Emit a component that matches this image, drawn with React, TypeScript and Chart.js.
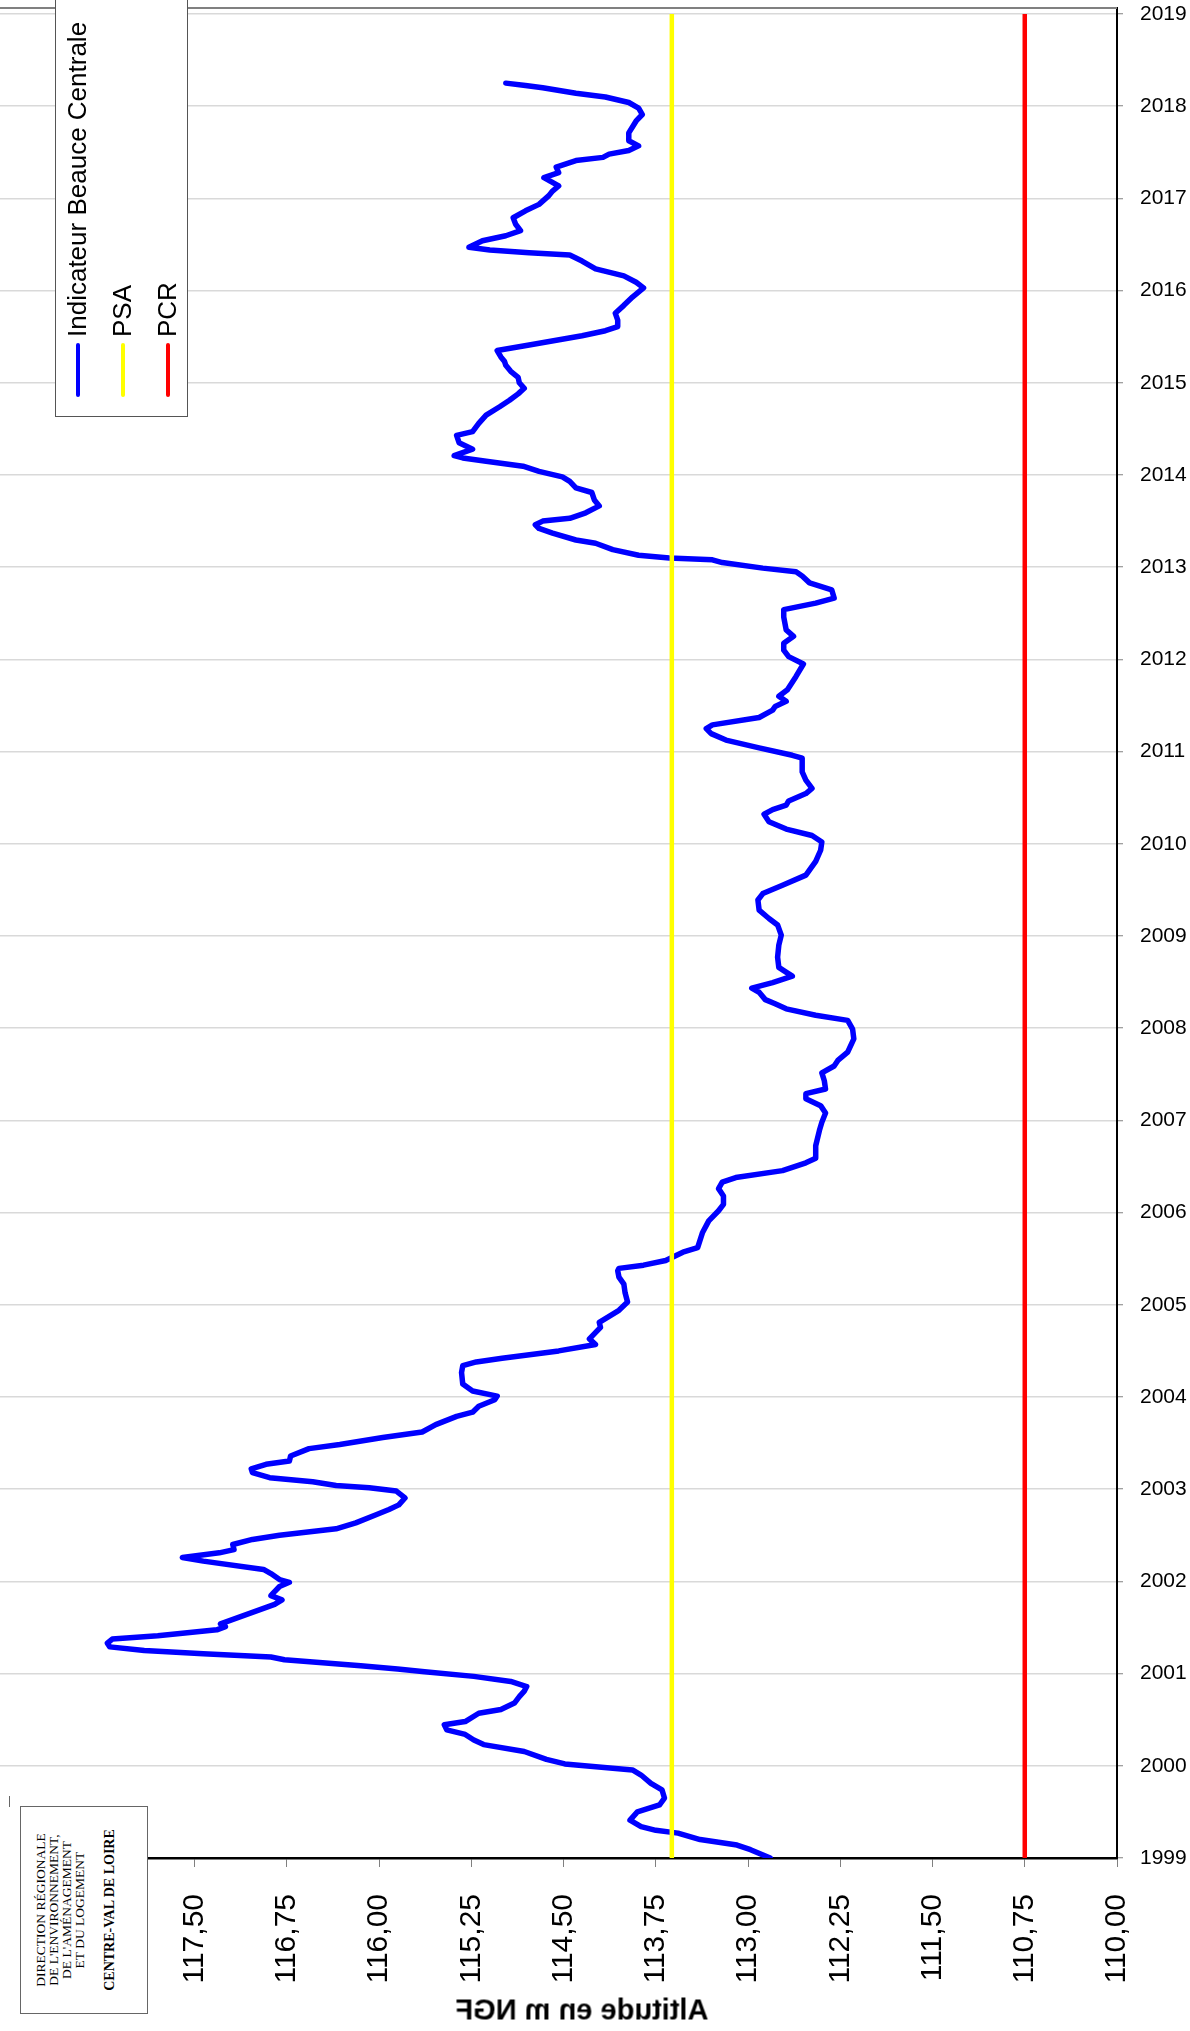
import React, { useEffect, useRef } from "react";
import { Chart, registerables } from "chart.js";

Chart.register(...registerables);

// Decimal years of each measurement
const dates: number[] = [
  1999.0, 1999.09, 1999.14, 1999.2, 1999.27, 1999.3, 1999.34, 1999.41, 1999.5, 1999.575,
  1999.65, 1999.74, 1999.81, 1999.9, 1999.955, 2000.02, 2000.07, 2000.155, 2000.23, 2000.28,
  2000.34, 2000.39, 2000.445, 2000.48, 2000.57, 2000.61, 2000.68, 2000.75, 2000.81, 2000.86,
  2000.915, 2000.97, 2001.02, 2001.05, 2001.085, 2001.15, 2001.18, 2001.215, 2001.25, 2001.29,
  2001.33, 2001.375, 2001.41, 2001.475, 2001.51, 2001.54, 2001.75, 2001.8, 2001.845, 2001.89,
  2001.945, 2001.99, 2002.02, 2002.085, 2002.13, 2002.22, 2002.26, 2002.31, 2002.345, 2002.4,
  2002.455, 2002.5, 2002.57, 2002.635, 2002.725, 2002.78, 2002.83, 2002.905, 2002.98, 2003.015,
  2003.04, 2003.08, 2003.125, 2003.18, 2003.22, 2003.27, 2003.305, 2003.36, 2003.44, 2003.485,
  2003.56, 2003.62, 2003.7, 2003.79, 2003.835, 2003.9, 2003.97, 2004.01, 2004.065, 2004.14,
  2004.265, 2004.34, 2004.38, 2004.42, 2004.5, 2004.57, 2004.63, 2004.755, 2004.81, 2004.875,
  2004.94, 2005.03, 2005.13, 2005.225, 2005.3, 2005.37, 2005.395, 2005.43, 2005.48, 2005.57,
  2005.62, 2005.785, 2005.91, 2006.02, 2006.09, 2006.18, 2006.26, 2006.33, 2006.38, 2006.455,
  2006.54, 2006.59, 2006.725, 2006.89, 2006.98, 2007.08, 2007.16, 2007.235, 2007.29, 2007.34,
  2007.43, 2007.515, 2007.59, 2007.65, 2007.74, 2007.885, 2007.99, 2008.085, 2008.14, 2008.21,
  2008.265, 2008.31, 2008.39, 2008.435, 2008.495, 2008.565, 2008.625, 2008.66, 2008.77, 2008.9,
  2009.01, 2009.12, 2009.19, 2009.28, 2009.39, 2009.46, 2009.55, 2009.66, 2009.81, 2009.93,
  2010.02, 2010.09, 2010.16, 2010.24, 2010.32, 2010.37, 2010.42, 2010.465, 2010.545, 2010.6,
  2010.69, 2010.78, 2010.93, 2010.96, 2011.04, 2011.125, 2011.195, 2011.25, 2011.29, 2011.37,
  2011.45, 2011.49, 2011.545, 2011.6, 2011.67, 2011.815, 2011.95, 2012.03, 2012.1, 2012.175,
  2012.25, 2012.32, 2012.46, 2012.54, 2012.61, 2012.665, 2012.755, 2012.83, 2012.905, 2012.95,
  2012.99, 2013.05, 2013.08, 2013.1, 2013.13, 2013.19, 2013.26, 2013.295, 2013.37, 2013.42,
  2013.46, 2013.5, 2013.53, 2013.59, 2013.665, 2013.73, 2013.81, 2013.86, 2013.93, 2013.98,
  2014.04, 2014.095, 2014.15, 2014.185, 2014.21, 2014.28, 2014.35, 2014.43, 2014.47, 2014.56,
  2014.65, 2014.74, 2014.81, 2014.88, 2014.94, 2015.0, 2015.06, 2015.125, 2015.19, 2015.23,
  2015.28, 2015.35, 2015.41, 2015.51, 2015.565, 2015.61, 2015.68, 2015.755, 2015.84, 2015.93,
  2016.03, 2016.09, 2016.16, 2016.235, 2016.32, 2016.385, 2016.41, 2016.44, 2016.47, 2016.54,
  2016.595, 2016.65, 2016.72, 2016.79, 2016.865, 2016.935, 2017.03, 2017.08, 2017.135, 2017.225,
  2017.28, 2017.34, 2017.41, 2017.445, 2017.48, 2017.52, 2017.57, 2017.625, 2017.71, 2017.84,
  2017.91, 2017.98, 2018.04, 2018.1, 2018.14, 2018.2, 2018.225, 2018.25,
];

// Groundwater level, metres NGF (Indicateur Beauce Centrale)
const levels: number[] = [
  112.82, 112.98, 113.09, 113.39, 113.57, 113.75, 113.87, 113.96, 113.9, 113.72,
  113.68, 113.7, 113.79, 113.87, 113.94, 114.49, 114.64, 114.82, 115.15, 115.23,
  115.3, 115.45, 115.47, 115.3, 115.19, 115.01, 114.9, 114.86, 114.82, 114.8,
  114.93, 115.23, 115.63, 115.85, 116.15, 116.77, 116.88, 117.43, 117.91, 118.19,
  118.21, 118.17, 117.8, 117.32, 117.25, 117.29, 116.85, 116.79, 116.88, 116.85,
  116.81, 116.73, 116.81, 116.88, 116.94, 117.43, 117.6, 117.3, 117.18, 117.19,
  117.03, 116.81, 116.35, 116.19, 116.02, 115.92, 115.84, 115.79, 115.86, 116.08,
  116.35, 116.54, 116.89, 117.03, 117.04, 116.92, 116.73, 116.72, 116.57, 116.32,
  115.97, 115.65, 115.54, 115.37, 115.24, 115.19, 115.06, 115.04, 115.24, 115.32,
  115.33, 115.32, 115.21, 115.0, 114.54, 114.24, 114.29, 114.2, 114.21, 114.13,
  114.05, 113.98, 114.0, 114.01, 114.05, 114.06, 114.05, 113.85, 113.67, 113.53,
  113.41, 113.37, 113.32, 113.24, 113.2, 113.2, 113.24, 113.21, 113.1, 112.72,
  112.53, 112.45, 112.45, 112.42, 112.4, 112.37, 112.41, 112.53, 112.53, 112.37,
  112.38, 112.4, 112.3, 112.27, 112.19, 112.14, 112.15, 112.19, 112.45, 112.69,
  112.78, 112.86, 112.91, 112.97, 112.8, 112.64, 112.71, 112.75, 112.76, 112.75,
  112.73, 112.76, 112.83, 112.91, 112.92, 112.88, 112.72, 112.53, 112.45, 112.41,
  112.4, 112.48, 112.69, 112.83, 112.87, 112.8, 112.69, 112.67, 112.53, 112.48,
  112.53, 112.56, 112.56, 112.64, 112.91, 113.18, 113.3, 113.34, 113.29, 112.91,
  112.8, 112.78, 112.69, 112.75, 112.68, 112.61, 112.55, 112.67, 112.71, 112.71,
  112.63, 112.69, 112.71, 112.71, 112.45, 112.3, 112.32, 112.5, 112.56, 112.61,
  112.88, 113.21, 113.29, 113.64, 113.89, 114.1, 114.24, 114.4, 114.59, 114.7,
  114.73, 114.67, 114.45, 114.32, 114.21, 114.25, 114.27, 114.4, 114.45, 114.51,
  114.7, 114.83, 115.13, 115.32, 115.39, 115.24, 115.35, 115.37, 115.24, 115.19,
  115.13, 115.02, 114.94, 114.87, 114.82, 114.86, 114.87, 114.93, 114.97, 114.98,
  115.01, 115.04, 114.78, 114.35, 114.16, 114.06, 114.06, 114.08, 114.01, 113.94,
  113.85, 113.91, 114.01, 114.24, 114.35, 114.45, 114.78, 115.1, 115.27, 115.16,
  114.97, 114.85, 114.89, 114.91, 114.81, 114.7, 114.62, 114.59, 114.54, 114.66,
  114.54, 114.56, 114.4, 114.18, 114.13, 113.97, 113.89, 113.97, 113.97, 113.91,
  113.86, 113.89, 113.97, 114.16, 114.4, 114.67, 114.81, 114.97,
];

const psaLevel = 113.62;
const pcrLevel = 110.75;

const yearTicks: number[] = [
  1999, 2000, 2001, 2002, 2003, 2004, 2005, 2006, 2007, 2008, 2009,
  2010, 2011, 2012, 2013, 2014, 2015, 2016, 2017, 2018, 2019,
];
const altitudeTicks: number[] = [
  110.0, 110.75, 111.5, 112.25, 113.0, 113.75, 114.5, 115.25, 116.0, 116.75, 117.5,
];

const seriesNames: string[] = ["Indicateur Beauce Centrale", "PSA", "PCR"];
const seriesColors: string[] = ["#0000ff", "#ffff00", "#ff0000"];

const axisTitle = "Altitude en m NGF";
const logoLines: string[] = [
  "DIRECTION RÉGIONALE",
  "DE L'ENVIRONNEMENT,",
  "DE L'AMÉNAGEMENT",
  "ET DU LOGEMENT",
];
const logoBold = "CENTRE-VAL DE LOIRE";

const SANS = '"Liberation Sans", Arial, Helvetica, sans-serif';
const SERIF = '"Liberation Serif", "Times New Roman", Times, serif';

const topBorder = {
  id: "topBorder",
  afterDatasetsDraw(chart: any) {
    const { ctx, chartArea } = chart;
    ctx.save();
    ctx.strokeStyle = "#808080";
    ctx.lineWidth = 2;
    ctx.beginPath();
    ctx.moveTo(chartArea.left, chartArea.top);
    ctx.lineTo(chartArea.right, chartArea.top);
    ctx.stroke();
    ctx.restore();
  },
};

export default function App() {
  const canvasRef = useRef<HTMLCanvasElement | null>(null);

  useEffect(() => {
    if (!canvasRef.current) return;
    const first = yearTicks[0];
    const last = yearTicks[yearTicks.length - 1];
    const chart = new Chart(canvasRef.current, {
      type: "line",
      data: {
        datasets: [
          {
            label: seriesNames[0],
            data: dates.map((d, i) => ({ x: levels[i], y: d })),
            borderColor: seriesColors[0],
            backgroundColor: seriesColors[0],
            borderWidth: 5.5,
            pointRadius: 0,
            tension: 0,
            fill: false,
            borderJoinStyle: "round",
            borderCapStyle: "round",
            order: 2,
          },
          {
            label: seriesNames[1],
            data: [
              { x: psaLevel, y: first },
              { x: psaLevel, y: last },
            ],
            borderColor: seriesColors[1],
            backgroundColor: seriesColors[1],
            borderWidth: 4.5,
            pointRadius: 0,
            fill: false,
            order: 0,
          },
          {
            label: seriesNames[2],
            data: [
              { x: pcrLevel, y: first },
              { x: pcrLevel, y: last },
            ],
            borderColor: seriesColors[2],
            backgroundColor: seriesColors[2],
            borderWidth: 4.5,
            pointRadius: 0,
            fill: false,
            order: 1,
          },
        ],
      },
      options: {
        animation: false,
        responsive: false,
        devicePixelRatio: 1,
        layout: { padding: { top: 8, left: 0, right: 0, bottom: 0 } },
        plugins: {
          legend: { display: false },
          tooltip: { enabled: false },
        },
        scales: {
          x: {
            type: "linear",
            position: "bottom",
            reverse: true,
            min: 110,
            max: 119.083,
            afterBuildTicks: (s: any) => {
              s.ticks = altitudeTicks.map((v) => ({ value: v }));
            },
            afterFit: (s: any) => {
              s.height = 173;
              s.paddingLeft = 0;
              s.paddingRight = 0;
            },
            grid: {
              drawOnChartArea: false,
              drawTicks: true,
              tickLength: 9,
              tickColor: "#808080",
              tickWidth: 1,
            },
            border: { display: true, color: "#000000", width: 2.5 },
            ticks: {
              autoSkip: false,
              minRotation: 90,
              maxRotation: 90,
              padding: 27,
              color: "#000000",
              font: { family: SANS, size: 30 },
              callback: (v: any) => Number(v).toFixed(2).replace(".", ","),
            },
          },
          y: {
            type: "linear",
            position: "right",
            min: 1999,
            max: 2019.065,
            afterBuildTicks: (s: any) => {
              s.ticks = yearTicks.map((v) => ({ value: v }));
            },
            afterFit: (s: any) => {
              s.width = 73;
              s.paddingTop = 0;
              s.paddingBottom = 0;
            },
            grid: {
              color: "#d9d9d9",
              lineWidth: 1.5,
              tickLength: 6,
              tickColor: "#808080",
              tickWidth: 1,
            },
            border: { display: true, color: "#000000", width: 2 },
            ticks: {
              autoSkip: false,
              padding: 17,
              color: "#000000",
              font: { family: SANS, size: 21 },
              callback: (v: any) => String(v),
            },
          },
        },
      },
      plugins: [topBorder],
    });
    return () => chart.destroy();
  }, []);

  return (
    <div
      style={{
        position: "absolute",
        left: 0,
        top: 0,
        width: 1190,
        height: 2031,
        background: "#ffffff",
        overflow: "hidden",
      }}
    >
      <canvas
        ref={canvasRef}
        width={1190}
        height={2031}
        style={{ position: "absolute", left: 0, top: 0, width: 1190, height: 2031, display: "block" }}
      />

      {/* Legend (rotated) */}
      <div
        style={{
          position: "absolute",
          left: 55,
          top: 417,
          width: 420,
          height: 133,
          transform: "rotate(-90deg)",
          transformOrigin: "0 0",
          border: "1px solid #555",
          boxSizing: "border-box",
          background: "#ffffff",
        }}
      >
        {seriesNames.map((name, i) => (
          <div
            key={name}
            style={{
              position: "absolute",
              left: 0,
              top: i * 45 - 1,
              height: 45,
              width: 420,
              display: "flex",
              alignItems: "center",
            }}
          >
            <div
              style={{
                marginLeft: 19,
                width: 54,
                height: 4,
                borderRadius: 2,
                background: seriesColors[i],
              }}
            />
            <span
              style={{
                marginLeft: 6,
                fontFamily: SANS,
                fontSize: 26,
                color: "#000",
                whiteSpace: "nowrap",
              }}
            >
              {name}
            </span>
          </div>
        ))}
      </div>

      {/* White strip left of the logo */}
      <div
        style={{
          position: "absolute",
          left: 0,
          top: 1806,
          width: 20,
          height: 225,
          background: "#ffffff",
        }}
      />
      <div
        style={{
          position: "absolute",
          left: 9,
          top: 1796,
          width: 1,
          height: 11,
          background: "#666",
        }}
      />

      {/* Logo box (rotated) */}
      <div
        style={{
          position: "absolute",
          left: 20,
          top: 2014,
          width: 208,
          height: 128,
          transform: "rotate(-90deg)",
          transformOrigin: "0 0",
          border: "1px solid #666",
          boxSizing: "border-box",
          background: "#ffffff",
          fontFamily: SERIF,
          color: "#000",
        }}
      >
        <div
          style={{
            position: "absolute",
            left: 0,
            top: 12.5,
            width: 206,
            textAlign: "center",
            fontSize: 13.5,
            lineHeight: "13px",
          }}
        >
          {logoLines.map((l) => (
            <div key={l} style={{ whiteSpace: "nowrap" }}>
              {l}
            </div>
          ))}
        </div>
        <div
          style={{
            position: "absolute",
            left: 0,
            top: 81,
            width: 206,
            textAlign: "center",
            fontSize: 14,
            fontWeight: "bold",
            lineHeight: "16px",
            whiteSpace: "nowrap",
          }}
        >
          {logoBold}
        </div>
      </div>

      {/* Axis title (mirrored as in the source) */}
      <div
        style={{
          position: "absolute",
          left: 582,
          top: 2010,
          transform: "translate(-50%, -50%) scaleX(-1)",
          fontFamily: SANS,
          fontWeight: "bold",
          fontSize: 29,
          color: "#000",
          whiteSpace: "nowrap",
        }}
      >
        {axisTitle}
      </div>
    </div>
  );
}
